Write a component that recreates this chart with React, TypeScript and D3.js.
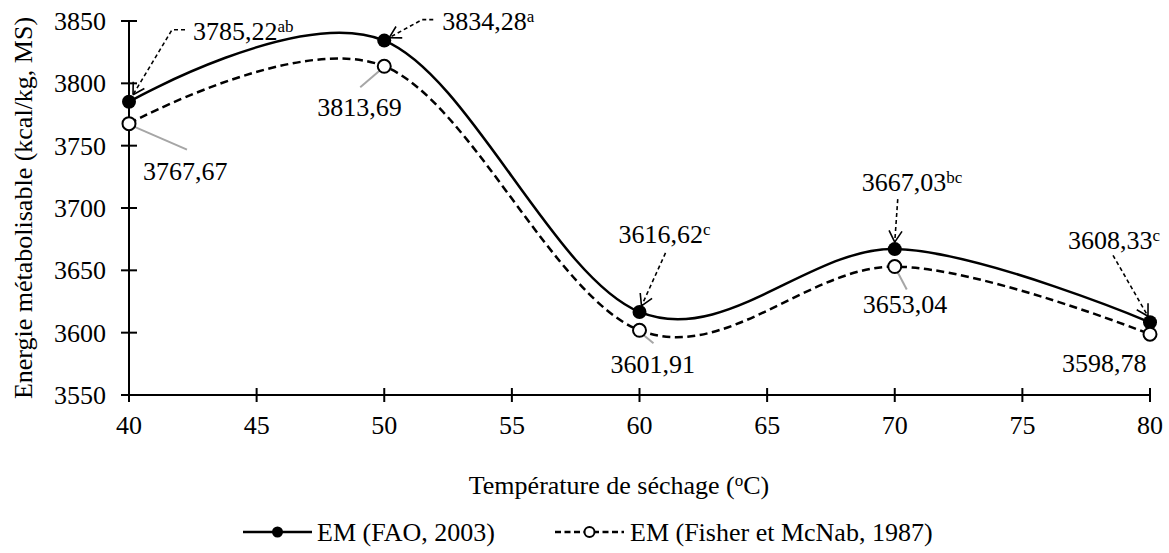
import React from "react";
import * as d3 from "d3";

// ---------- data ----------
const temperatures = [40, 50, 60, 70, 80];
const emFAO = [3785.22, 3834.28, 3616.62, 3667.03, 3608.33];
const emFisher = [3767.67, 3813.69, 3601.91, 3653.04, 3598.78];
const faoLabels = ["3785,22", "3834,28", "3616,62", "3667,03", "3608,33"];
const faoLetters = ["ab", "a", "c", "bc", "c"];
const fisherLabels = ["3767,67", "3813,69", "3601,91", "3653,04", "3598,78"];
const xTicks = [40, 45, 50, 55, 60, 65, 70, 75, 80];
const yTicks = [3550, 3600, 3650, 3700, 3750, 3800, 3850];
const seriesNames = ["EM (FAO, 2003)", "EM (Fisher et McNab, 1987)"];
const xTitle = "Température de séchage (";
const yTitle = "Energie métabolisable (kcal/kg, MS)";

// ---------- layout (pixel offsets of labels relative to their point) ----------
// text: [dx, dy] of text start/baseline; leader: list of [dx, dy] points ending near the marker
const faoLayout = [
  { text: [64, -62], leader: [[56, -72], [43, -72], [4, -7]] },
  { text: [58, -11], leader: [[49, -21], [38, -21], [5, -3]] },
  { text: [-21, -69], leader: [[26, -59], [2, -6]] },
  { text: [-33, -58], leader: [[3, -50], [0, -7]] },
  { text: [-82, -73], leader: [[-37, -67], [-2, -6]] },
];
const fisherLayout = [
  { text: [14, 56], leader: [[58, 26], [5, 3]] },
  { text: [-67, 50], leader: [[-24, 21], [-3, 3]] },
  { text: [-29, 43], leader: [[3, 4], [14, 13]] },
  { text: [-32, 46], leader: [[2, 4], [12, 23]] },
  { text: [-88, 38], leader: [] as number[][] },
];

const W = 1169;
const H = 553;
const FONT = "'Liberation Serif', 'Times New Roman', serif";
const FS = 26;

export default function App() {
  const x = d3.scaleLinear().domain([40, 80]).range([129, 1150]);
  const y = d3.scaleLinear().domain([3550, 3850]).range([395, 21]);

  const line = d3
    .line<number>()
    .x((_, i) => x(temperatures[i]))
    .y((d) => y(d))
    .curve(d3.curveCardinal.tension(0));

  const arrow = (pts: number[][]) => {
    const n = pts.length;
    const [ax, ay] = pts[n - 2];
    const [tx, ty] = pts[n - 1];
    const len = Math.hypot(tx - ax, ty - ay);
    const ux = (tx - ax) / len;
    const uy = (ty - ay) / len;
    const L = 13;
    const ang = (30 * Math.PI) / 180;
    const wing = (s: number) => {
      const c = Math.cos(s * ang);
      const sn = Math.sin(s * ang);
      const rx = ux * c - uy * sn;
      const ry = ux * sn + uy * c;
      return `M${tx - L * rx},${ty - L * ry}L${tx},${ty}`;
    };
    return wing(1) + wing(-1);
  };

  return (
    <svg
      width={W}
      height={H}
      style={{ position: "absolute", left: 0, top: 0, background: "#fff" }}
      fontFamily={FONT}
    >
      <rect width={W} height={H} fill="#fff" />
      {/* axes */}
      <line x1={x(40)} x2={x(40)} y1={y(3850)} y2={y(3550)} stroke="#000" strokeWidth={2} />
      <line x1={x(40)} x2={x(80)} y1={y(3550)} y2={y(3550)} stroke="#000" strokeWidth={2} />
      {yTicks.map((t) => (
        <g key={"y" + t}>
          <line x1={x(40) - 8} x2={x(40) + 8} y1={y(t)} y2={y(t)} stroke="#000" strokeWidth={2} />
          <text x={106} y={y(t) + 9} textAnchor="end" fontSize={FS}>
            {t}
          </text>
        </g>
      ))}
      {xTicks.map((t) => (
        <g key={"x" + t}>
          <line x1={x(t)} x2={x(t)} y1={y(3550) - 7} y2={y(3550) + 7} stroke="#000" strokeWidth={2} />
          <text x={x(t)} y={434} textAnchor="middle" fontSize={FS}>
            {t}
          </text>
        </g>
      ))}
      {/* axis titles */}
      <text
        transform={`translate(32, ${(y(3850) + y(3550)) / 2}) rotate(-90)`}
        textAnchor="middle"
        fontSize={FS}
      >
        {yTitle}
      </text>
      <text x={619} y={494} textAnchor="middle" fontSize={FS}>
        {xTitle}
        <tspan fontSize={17} dy={-8}>o</tspan>
        <tspan dy={8}>C)</tspan>
      </text>

      {/* lines */}
      <path d={line(emFAO) || ""} fill="none" stroke="#000" strokeWidth={2.5} />
      <path d={line(emFisher) || ""} fill="none" stroke="#000" strokeWidth={2.5} strokeDasharray="8,4.5" />

      {/* leaders */}
      {emFisher.map((v, i) => {
        const px = x(temperatures[i]);
        const py = y(v);
        const pts = fisherLayout[i].leader;
        if (pts.length < 2) return null;
        return (
          <path
            key={"fl" + i}
            d={"M" + pts.map(([dx, dy]) => `${px + dx},${py + dy}`).join("L")}
            fill="none"
            stroke="#a6a6a6"
            strokeWidth={2}
          />
        );
      })}
      {emFAO.map((v, i) => {
        const px = x(temperatures[i]);
        const py = y(v);
        const pts = faoLayout[i].leader.map(([dx, dy]) => [px + dx, py + dy]);
        return (
          <g key={"al" + i}>
            <path
              d={"M" + pts.map(([a, b]) => `${a},${b}`).join("L")}
              fill="none"
              stroke="#000"
              strokeWidth={1.6}
              strokeDasharray="4,3"
            />
            <path d={arrow(pts)} fill="none" stroke="#000" strokeWidth={1.6} />
          </g>
        );
      })}

      {/* markers */}
      {emFAO.map((v, i) => (
        <circle key={"mf" + i} cx={x(temperatures[i])} cy={y(v)} r={7} fill="#000" />
      ))}
      {emFisher.map((v, i) => (
        <circle
          key={"mo" + i}
          cx={x(temperatures[i])}
          cy={y(v)}
          r={6.5}
          fill="#fff"
          stroke="#000"
          strokeWidth={2}
        />
      ))}

      {/* data labels */}
      {emFAO.map((v, i) => (
        <text
          key={"tf" + i}
          x={x(temperatures[i]) + faoLayout[i].text[0]}
          y={y(v) + faoLayout[i].text[1]}
          fontSize={FS}
        >
          {faoLabels[i]}
          <tspan fontSize={17} dy={-8}>
            {faoLetters[i]}
          </tspan>
        </text>
      ))}
      {emFisher.map((v, i) => (
        <text
          key={"to" + i}
          x={x(temperatures[i]) + fisherLayout[i].text[0]}
          y={y(v) + fisherLayout[i].text[1]}
          fontSize={FS}
        >
          {fisherLabels[i]}
        </text>
      ))}

      {/* legend */}
      <g>
        <line x1={243} x2={312} y1={532} y2={532} stroke="#000" strokeWidth={2.5} />
        <circle cx={277.5} cy={532} r={5.5} fill="#000" />
        <text x={317} y={541} fontSize={FS}>
          {seriesNames[0]}
        </text>
        <line x1={555} x2={624} y1={532} y2={532} stroke="#000" strokeWidth={2.5} strokeDasharray="6,3.5" />
        <circle cx={589.5} cy={532} r={5} fill="#fff" stroke="#000" strokeWidth={2} />
        <text x={630} y={541} fontSize={FS}>
          {seriesNames[1]}
        </text>
      </g>
    </svg>
  );
}
